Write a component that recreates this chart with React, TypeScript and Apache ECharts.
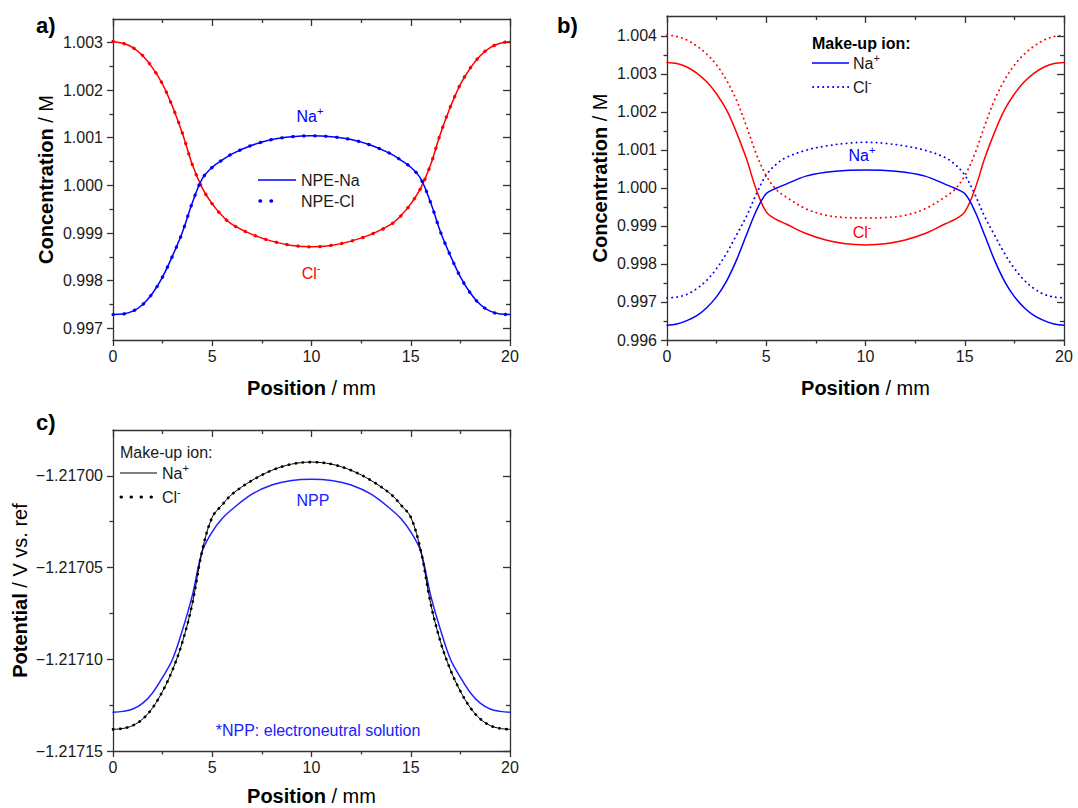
import React, { useEffect, useRef } from 'react';
import * as echarts from 'echarts';

// ---- data ----
const positions = [0, 0.5, 1, 1.5, 2, 2.5, 3, 3.5, 4, 4.5, 5, 5.5, 6, 7, 8, 9, 10, 11, 12, 13, 14, 14.5, 15, 15.5, 16, 16.5, 17, 17.5, 18, 18.5, 19, 19.5, 20];

// panel a (NPE-Na and NPE-Cl coincide)
const aClNpeNa = [1.00302, 1.00298, 1.00289, 1.00272, 1.00246, 1.00212, 1.00165, 1.00109, 1.00043, 0.99994, 0.99961, 0.99936, 0.99918, 0.99897, 0.99883, 0.99874, 0.99871,
  0.99874, 0.99883, 0.99897, 0.99918, 0.99936, 0.99961, 0.99994, 1.00043, 1.00109, 1.00165, 1.00212, 1.00246, 1.00272, 1.00289, 1.00298, 1.00302];
const aNaNpeNa = [0.99729, 0.9973, 0.99736, 0.9975, 0.99774, 0.99808, 0.99852, 0.99902, 0.99964, 1.00014, 1.00038, 1.00053, 1.00066, 1.00084, 1.00096, 1.00102, 1.00104,
  1.00102, 1.00096, 1.00084, 1.00066, 1.00053, 1.00038, 1.00014, 0.99964, 0.99902, 0.99852, 0.99808, 0.99774, 0.9975, 0.99736, 0.9973, 0.99729];
const aClNpeCl = [1.00302, 1.00298, 1.00289, 1.00272, 1.00246, 1.00212, 1.00165, 1.00109, 1.00043, 0.99994, 0.99961, 0.99936, 0.99918, 0.99897, 0.99883, 0.99874, 0.99871,
  0.99874, 0.99883, 0.99897, 0.99918, 0.99936, 0.99961, 0.99994, 1.00043, 1.00109, 1.00165, 1.00212, 1.00246, 1.00272, 1.00289, 1.00298, 1.00302];
const aNaNpeCl = [0.99729, 0.9973, 0.99736, 0.9975, 0.99774, 0.99808, 0.99852, 0.99902, 0.99964, 1.00014, 1.00038, 1.00053, 1.00066, 1.00084, 1.00096, 1.00102, 1.00104,
  1.00102, 1.00096, 1.00084, 1.00066, 1.00053, 1.00038, 1.00014, 0.99964, 0.99902, 0.99852, 0.99808, 0.99774, 0.9975, 0.99736, 0.9973, 0.99729];

// panel b (make-up ion Na+ solid, Cl- dotted)
const bClNa = [1.0033, 1.00327, 1.00318, 1.00302, 1.00279, 1.00247, 1.00205, 1.00146, 1.00077, 0.99995, 0.99937, 0.99917, 0.99905, 0.9988, 0.99863, 0.99853, 0.9985,
  0.99853, 0.99863, 0.9988, 0.99905, 0.99917, 0.99937, 0.99995, 1.00077, 1.00146, 1.00205, 1.00247, 1.00279, 1.00302, 1.00318, 1.00327, 1.0033];
const bClCl = [1.00402, 1.00398, 1.00389, 1.00373, 1.00352, 1.00323, 1.00283, 1.00231, 1.00163, 1.00089, 1.00032, 0.99996, 0.99976, 0.99945, 0.99928, 0.99922, 0.99921,
  0.99922, 0.99928, 0.99945, 0.99976, 0.99996, 1.00032, 1.00089, 1.00163, 1.00231, 1.00283, 1.00323, 1.00352, 1.00373, 1.00389, 1.00398, 1.00402];
const bNaNa = [0.99639, 0.99642, 0.99651, 0.99664, 0.99685, 0.99714, 0.99755, 0.9981, 0.99876, 0.9994, 0.99985, 0.99999, 1.0001, 1.00031, 1.00041, 1.00046, 1.00047,
  1.00046, 1.00041, 1.00031, 1.0001, 0.99999, 0.99985, 0.9994, 0.99876, 0.9981, 0.99755, 0.99714, 0.99685, 0.99664, 0.99651, 0.99642, 0.99639];
const bNaCl = [0.99711, 0.99713, 0.9972, 0.99735, 0.99757, 0.99788, 0.99828, 0.99876, 0.99925, 0.99984, 1.00034, 1.00062, 1.0008, 1.00099, 1.0011, 1.00117, 1.0012,
  1.00117, 1.0011, 1.00099, 1.0008, 1.00062, 1.00034, 0.99984, 0.99925, 0.99876, 0.99828, 0.99788, 0.99757, 0.99735, 0.9972, 0.99713, 0.99711];

// panel c (potential)
const cPotNa = [-1.2171382, -1.2171377, -1.2171361, -1.2171325, -1.2171264, -1.2171174, -1.2171058, -1.2170905, -1.2170695, -1.2170405, -1.2170225, -1.2170158, -1.21701, -1.2170025, -1.216997, -1.2169936, -1.2169925,
  -1.2169936, -1.216997, -1.2170025, -1.21701, -1.2170158, -1.2170225, -1.2170405, -1.2170695, -1.2170905, -1.2171058, -1.2171174, -1.2171264, -1.2171325, -1.2171361, -1.2171377, -1.2171382];
const cPotCl = [-1.2171382, -1.2171377, -1.2171361, -1.2171325, -1.2171264, -1.2171174, -1.2171058, -1.2170905, -1.2170695, -1.2170405, -1.2170225, -1.2170158, -1.21701, -1.2170025, -1.216997, -1.2169936, -1.2169925,
  -1.2169936, -1.216997, -1.2170025, -1.21701, -1.2170158, -1.2170225, -1.2170405, -1.2170695, -1.2170905, -1.2171058, -1.2171174, -1.2171264, -1.2171325, -1.2171361, -1.2171377, -1.2171382];
const cPotNpp = [-1.2171289, -1.2171284, -1.2171271, -1.2171239, -1.2171182, -1.2171098, -1.2171, -1.217084, -1.217065, -1.217041, -1.2170305, -1.2170233, -1.2170182, -1.21701, -1.217005, -1.2170025, -1.2170018,
  -1.2170025, -1.217005, -1.21701, -1.2170182, -1.2170233, -1.2170305, -1.217041, -1.217065, -1.217084, -1.2171, -1.2171098, -1.2171182, -1.2171239, -1.2171271, -1.2171284, -1.2171289];

// ticks
const xTicks = [0, 5, 10, 15, 20];
const aYTicks = [0.997, 0.998, 0.999, 1.0, 1.001, 1.002, 1.003];
const aYMinor = [0.9975, 0.9985, 0.9995, 1.0005, 1.0015, 1.0025];
const bYTicks = [0.996, 0.997, 0.998, 0.999, 1.0, 1.001, 1.002, 1.003, 1.004];
const bYMinor = [0.9965, 0.9975, 0.9985, 0.9995, 1.0005, 1.0015, 1.0025, 1.0035];
const cYTicks = [-1.21715, -1.2171, -1.21705, -1.217];
const cYMinor = [-1.217125, -1.217075, -1.217025];

const FONT = '"Liberation Sans", Arial, Helvetica, sans-serif';
const AX = '#333';
const TXT = '#1a1a1a';
const BLUE = '#0000ff';
const RED = '#ff0000';
const NPPBLUE = '#2020ff';

function xAxes(grid: number, nameGap: number) {
  const base: any = { type: 'value', gridIndex: grid, min: xTicks[0], max: xTicks[xTicks.length - 1], interval: 5, splitLine: { show: false } };
  const tl = { color: AX, width: 1.3 };
  return [
    {
      ...base, position: 'bottom',
      axisLine: { show: true, onZero: false, lineStyle: tl },
      axisTick: { show: true, inside: false, length: 6, lineStyle: tl },
      minorTick: { show: true, splitNumber: 2, length: 3.5, lineStyle: tl },
      axisLabel: { show: true, fontSize: 16, color: TXT, fontFamily: FONT, margin: 8 },
      name: '{b|Position} / mm', nameLocation: 'middle', nameGap, nameMoveOverlap: false,
      nameTextStyle: { fontSize: 20, color: '#000', fontFamily: FONT, rich: { b: { fontSize: 20, fontWeight: 'bold', color: '#000', fontFamily: FONT } } },
    },
    {
      ...base, position: 'top',
      axisLine: { show: true, onZero: false, lineStyle: tl },
      axisTick: { show: true, inside: true, length: 7, lineStyle: tl },
      minorTick: { show: true, splitNumber: 2, length: 4, lineStyle: tl },
      axisLabel: { show: false },
    },
  ];
}

function yAxes(grid: number, min: number, max: number, majors: number[], minors: number[], fmt: (v: number) => string, name: string, nameGap: number) {
  const base: any = { type: 'value', gridIndex: grid, min, max, splitLine: { show: false } };
  const tl = { color: AX, width: 1.3 };
  return [
    {
      ...base, position: 'left',
      axisLine: { show: true, onZero: false, lineStyle: tl },
      axisTick: { show: true, inside: false, length: 6, customValues: majors, lineStyle: tl },
      axisLabel: { show: true, customValues: majors, formatter: fmt, fontSize: 16, color: TXT, fontFamily: FONT, margin: 10 },
      name, nameLocation: 'middle', nameGap, nameMoveOverlap: false,
      nameTextStyle: { fontSize: 20, color: '#000', fontFamily: FONT, rich: { b: { fontSize: 20, fontWeight: 'bold', color: '#000', fontFamily: FONT } } },
    },
    {
      ...base, position: 'left',
      axisLine: { show: false, onZero: false },
      axisTick: { show: true, inside: false, length: 3.5, customValues: minors, lineStyle: tl },
      axisLabel: { show: false },
    },
    {
      ...base, position: 'right',
      axisLine: { show: true, onZero: false, lineStyle: tl },
      axisTick: { show: true, inside: true, length: 7, customValues: majors, lineStyle: tl },
      axisLabel: { show: false },
    },
    {
      ...base, position: 'right',
      axisLine: { show: false, onZero: false },
      axisTick: { show: true, inside: true, length: 4, customValues: minors, lineStyle: tl },
      axisLabel: { show: false },
    },
  ];
}

function line(xi: number, yi: number, vals: number[], color: string, width: number, type: any, z = 2) {
  return {
    type: 'line', xAxisIndex: xi, yAxisIndex: yi, silent: true, showSymbol: false, symbol: 'none',
    smooth: 0.35, z,
    data: positions.map((x, i) => [x, vals[i]]),
    lineStyle: { color, width, type, cap: 'round' },
  };
}

const supRich = (color: string) => ({
  n: { fontSize: 16, lineHeight: 22, fill: color, fontFamily: FONT },
  s: { fontSize: 11, lineHeight: 10, fill: color, fontFamily: FONT, verticalAlign: 'top' },
});

function txt(x: number, y: number, text: string, color: string, opts: any = {}) {
  return {
    type: 'text', x, y, silent: true,
    style: {
      text, fill: color, fontSize: opts.fontSize || 16, fontFamily: FONT, fontWeight: opts.bold ? 'bold' : 'normal',
      align: opts.align || 'left', verticalAlign: 'middle', rich: opts.rich,
    },
  };
}

function seg(x1: number, y1: number, x2: number, y2: number, color: string, width: number, dash?: number[]) {
  return {
    type: 'line', silent: true, shape: { x1, y1, x2, y2 },
    style: { stroke: color, lineWidth: width, lineDash: dash, lineCap: dash ? 'round' : 'butt' },
  };
}

const DOT_A = [0.5, 10.5];
const DOT_B = [0.3, 4.7];
const DOT_C = [0.5, 6.5];

export default function App() {
  const ref = useRef<HTMLDivElement>(null);
  useEffect(() => {
    if (!ref.current) return;
    const chart = echarts.init(ref.current, undefined, { renderer: 'svg' });
    const f3 = (v: number) => v.toFixed(3);
    const f5 = (v: number) => (v < 0 ? '\u2212' : '') + Math.abs(v).toFixed(5);
    const option: any = {
      animation: false,
      backgroundColor: '#fff',
      textStyle: { fontFamily: FONT },
      grid: [
        { left: 113, top: 19, width: 397, height: 321, outerBoundsMode: 'none', containLabel: false },
        { left: 667, top: 16, width: 397, height: 324, outerBoundsMode: 'none', containLabel: false },
        { left: 113, top: 430, width: 397, height: 321, outerBoundsMode: 'none', containLabel: false },
      ],
      xAxis: [...xAxes(0, 38), ...xAxes(1, 38), ...xAxes(2, 35)],
      yAxis: [
        ...yAxes(0, 0.996755, 1.00349, aYTicks, aYMinor, f3, '{b|Concentration} / M', 57),
        ...yAxes(1, 0.996, 1.00452, bYTicks, bYMinor, f3, '{b|Concentration} / M', 57),
        ...yAxes(2, -1.21715, -1.216975, cYTicks, cYMinor, f5, '{b|Potential} / V vs. ref', 83),
      ],
      series: [
        line(0, 0, aClNpeNa, RED, 1.5, 'solid'),
        line(0, 0, aNaNpeNa, BLUE, 1.5, 'solid'),
        line(0, 0, aClNpeCl, RED, 3.2, DOT_A, 3),
        line(0, 0, aNaNpeCl, BLUE, 3.2, DOT_A, 3),
        line(2, 4, bClCl, RED, 1.8, DOT_B),
        line(2, 4, bNaCl, BLUE, 1.8, DOT_B),
        line(2, 4, bClNa, RED, 1.5, 'solid'),
        line(2, 4, bNaNa, BLUE, 1.5, 'solid'),
        line(4, 8, cPotNpp, NPPBLUE, 1.5, 'solid'),
        line(4, 8, cPotNa, '#000', 1, 'solid'),
        line(4, 8, cPotCl, '#000', 2.6, DOT_C, 3),
      ],
      graphic: [
        txt(36, 25, 'a)', '#000', { fontSize: 22, bold: true }),
        txt(557, 25, 'b)', '#000', { fontSize: 22, bold: true }),
        txt(36, 422, 'c)', '#000', { fontSize: 22, bold: true }),
        // panel a legend
        seg(258, 180, 296, 180, BLUE, 1.5),
        txt(301, 180, 'NPE-Na', TXT),
        seg(260, 201, 282, 201, BLUE, 3.5, DOT_A),
        txt(301, 201, 'NPE-Cl', TXT),
        txt(310, 116, '{n|Na}{s|+}', BLUE, { align: 'center', rich: supRich(BLUE) }),
        txt(311, 273, '{n|Cl}{s|-}', RED, { align: 'center', rich: supRich(RED) }),
        // panel b legend
        txt(812, 43, 'Make-up ion:', '#000', { bold: true }),
        seg(812, 63, 849, 63, BLUE, 1.5),
        txt(853, 63, '{n|Na}{s|+}', TXT, { rich: supRich(TXT) }),
        seg(813, 87, 849, 87, BLUE, 1.8, DOT_B),
        txt(853, 87, '{n|Cl}{s|-}', TXT, { rich: supRich(TXT) }),
        txt(862, 155, '{n|Na}{s|+}', BLUE, { align: 'center', rich: supRich(BLUE) }),
        txt(862, 232, '{n|Cl}{s|-}', RED, { align: 'center', rich: supRich(RED) }),
        // panel c legend
        txt(120, 452, 'Make-up ion:', TXT),
        seg(120, 473, 157, 473, '#000', 1),
        txt(162, 473, '{n|Na}{s|+}', TXT, { rich: supRich(TXT) }),
        seg(121, 497, 157, 497, '#000', 3, [0.5, 9.5]),
        txt(162, 497, '{n|Cl}{s|-}', TXT, { rich: supRich(TXT) }),
        txt(313, 500, 'NPP', NPPBLUE, { align: 'center' }),
        txt(318, 730, '*NPP: electroneutral solution', NPPBLUE, { align: 'center' }),
      ],
    };
    chart.setOption(option);
    return () => chart.dispose();
  }, []);
  return <div ref={ref} style={{ position: 'absolute', left: 0, top: 0, width: 1078, height: 808, background: '#fff' }} />;
}
